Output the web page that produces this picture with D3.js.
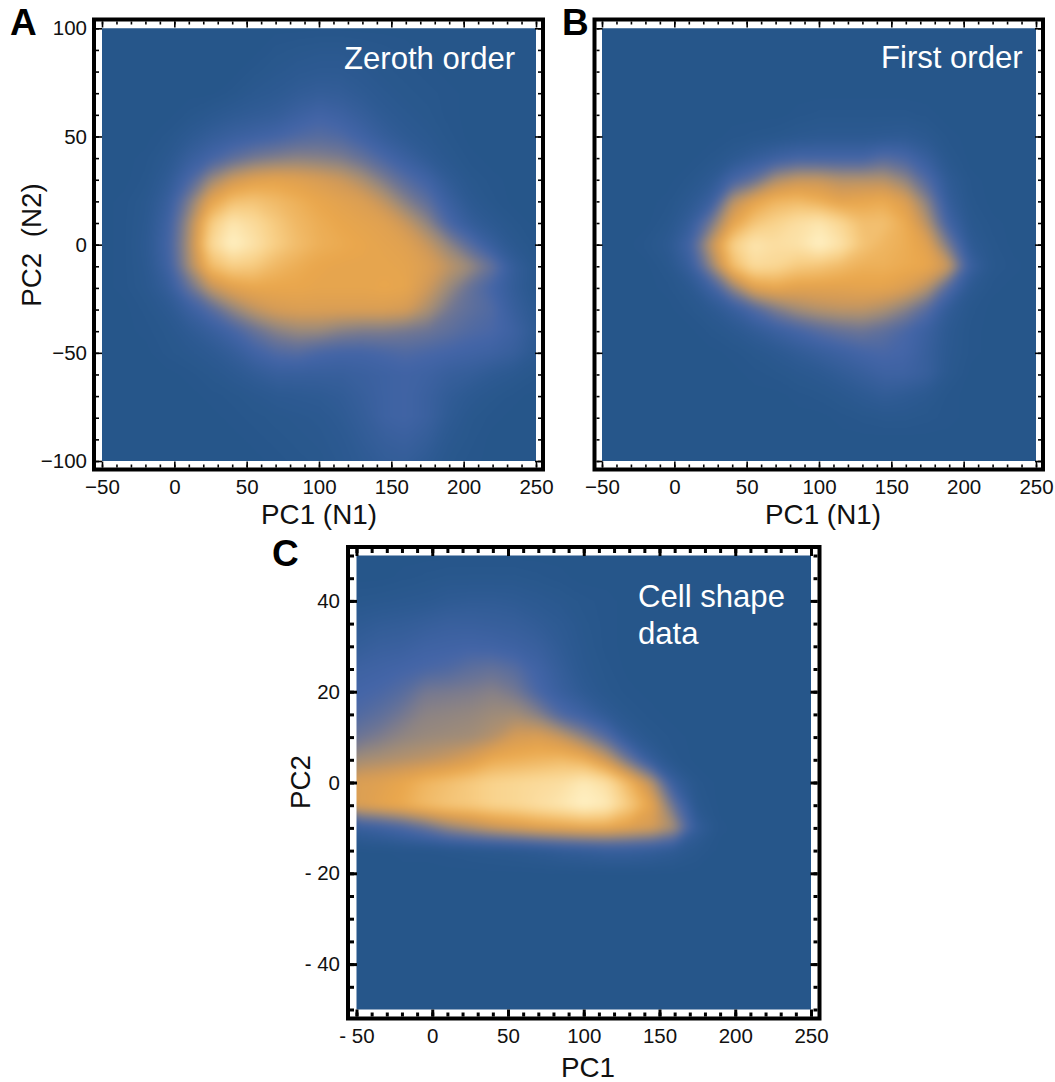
<!DOCTYPE html>
<html>
<head>
<meta charset="utf-8">
<script src="https://cdn.jsdelivr.net/npm/d3@7"></script>
<style>
  html, body { margin: 0; padding: 0; background: #fff; }
  text { font-family: "Liberation Sans", Arial, sans-serif; fill: #111; }
  .tick text { font-size: 20.5px; }
  .axis-label { font-size: 27.8px; }
  .panel-title { font-size: 31.1px; fill: #fff; }
  .panel-letter { font-size: 37px; font-weight: bold; fill: #000; }
</style>
</head>
<body>
<svg id="chart" width="1055" height="1082"></svg>
<script>
// density, 0 = background blue, 100 = brightest cream
// rows go top to bottom, columns left to right, 21 x 21
const zerothOrder = [
  [0,0,0,0,0,0,0,0,0,0,0,0,0,0,0,0,0,0,0,0,0],
  [0,0,0,0,0,0,0,0,2,3,4,4,3,2,1,0,0,0,0,0,0],
  [0,0,0,0,0,0,0,2,4,6,7,7,5,3,2,1,0,0,0,0,0],
  [0,0,0,0,0,0,2,5,7,10,12,11,8,5,3,2,1,0,0,0,0],
  [0,0,0,0,2,5,8,10,12,17,21,18,13,8,5,3,1,0,0,0,0],
  [0,0,0,2,7,12,16,19,22,26,28,26,20,13,8,5,2,0,0,0,0],
  [0,0,1,5,14,22,30,36,39,41,40,38,32,24,16,9,4,1,0,0,0],
  [0,0,2,9,24,44,56,62,64,62,59,55,48,38,28,20,9,3,1,0,0],
  [0,1,4,14,38,64,76,78,74,70,66,63,60,52,40,30,16,6,2,0,0],
  [0,1,5,18,46,80,94,88,80,73,69,66,64,62,54,42,24,12,6,2,0],
  [0,1,6,20,48,86,100,92,82,75,70,68,66,64,62,54,42,28,14,5,1],
  [0,1,5,18,46,74,82,80,73,69,66,65,65,65,64,60,52,44,32,12,3],
  [0,1,4,12,32,52,62,66,66,66,65,65,65,66,65,56,44,32,22,11,3],
  [0,0,2,6,16,28,42,52,58,60,60,60,60,60,58,48,36,30,26,14,6],
  [0,0,1,3,8,14,22,32,40,44,44,40,38,38,36,34,30,26,24,18,8],
  [0,0,0,2,4,7,12,20,26,28,24,22,22,24,26,24,22,20,18,14,6],
  [0,0,0,0,1,3,6,10,14,14,14,14,16,18,20,18,14,12,8,5,2],
  [0,0,0,0,0,1,2,4,6,7,8,10,14,18,20,16,10,6,3,1,0],
  [0,0,0,0,0,0,1,2,3,4,5,8,12,18,20,16,8,3,1,0,0],
  [0,0,0,0,0,0,0,1,2,3,4,6,10,14,16,12,5,2,0,0,0],
  [0,0,0,0,0,0,0,0,1,2,3,5,8,11,12,8,3,1,0,0,0]
];

const firstOrder = [
  [0,0,0,0,0,0,0,0,0,0,0,0,0,0,0,0,0,0,0,0,0],
  [0,0,0,0,0,0,0,0,0,0,0,0,0,0,0,0,0,0,0,0,0],
  [0,0,0,0,0,0,0,0,0,0,0,0,0,0,0,0,0,0,0,0,0],
  [0,0,0,0,0,0,0,0,0,0,0,0,0,0,0,0,0,0,0,0,0],
  [0,0,0,0,0,0,0,0,0,1,2,2,2,2,2,1,0,0,0,0,0],
  [0,0,0,0,0,0,1,2,3,5,6,6,6,7,8,5,1,0,0,0,0],
  [0,0,0,0,0,2,6,12,18,22,22,22,22,28,24,14,3,0,0,0,0],
  [0,0,0,0,2,7,22,32,48,54,54,50,50,50,42,26,8,1,0,0,0],
  [0,0,0,1,6,16,50,64,72,74,70,64,66,68,60,40,12,2,0,0,0],
  [0,0,0,3,12,36,64,78,84,90,94,86,76,76,68,50,20,4,1,0,0],
  [0,0,2,6,20,52,82,94,90,92,100,92,78,72,69,62,36,8,2,0,0],
  [0,0,0,3,14,42,74,88,86,80,78,74,70,70,68,66,54,16,3,1,0],
  [0,0,0,1,5,18,42,62,66,63,63,63,64,64,60,50,26,6,1,0,0],
  [0,0,0,0,2,6,14,26,38,46,50,52,52,48,40,28,10,2,0,0,0],
  [0,0,0,0,0,2,5,10,16,22,28,32,34,30,24,16,6,1,0,0,0],
  [0,0,0,0,0,0,1,3,6,10,14,18,22,24,22,14,5,1,0,0,0],
  [0,0,0,0,0,0,0,1,2,4,6,10,14,18,18,14,4,0,0,0,0],
  [0,0,0,0,0,0,0,0,0,1,2,4,7,10,8,5,1,0,0,0,0],
  [0,0,0,0,0,0,0,0,0,0,0,1,2,3,3,2,1,0,0,0,0],
  [0,0,0,0,0,0,0,0,0,0,0,0,0,0,0,0,0,0,0,0,0],
  [0,0,0,0,0,0,0,0,0,0,0,0,0,0,0,0,0,0,0,0,0]
];

const cellShape = [
  [0,0,0,0,0,0,0,0,0,0,0,0,0,0,0,0,0,0,0,0,0],
  [0,0,1,2,3,3,3,3,2,1,0,0,0,0,0,0,0,0,0,0,0],
  [3,4,5,6,8,9,9,8,6,4,2,1,0,0,0,0,0,0,0,0,0],
  [8,10,11,13,15,15,14,13,10,7,3,1,0,0,0,0,0,0,0,0,0],
  [12,15,16,19,20,21,20,18,15,9,4,1,0,0,0,0,0,0,0,0,0],
  [18,20,22,24,26,30,32,28,20,12,5,2,0,0,0,0,0,0,0,0,0],
  [22,24,28,36,37,38,40,36,24,15,8,3,1,0,0,0,0,0,0,0,0],
  [26,30,36,41,42,43,45,46,40,26,18,9,3,1,0,0,0,0,0,0,0],
  [34,38,42,44,45,46,50,58,60,54,42,28,10,3,1,0,0,0,0,0,0],
  [46,48,50,52,55,60,68,70,72,74,70,56,34,12,2,0,0,0,0,0,0],
  [60,62,66,72,76,80,84,86,88,90,96,90,72,50,14,2,0,0,0,0,0],
  [60,64,68,74,78,80,84,86,90,94,100,96,80,64,32,4,0,0,0,0,0],
  [14,18,24,32,42,48,54,58,62,64,66,66,62,58,46,12,1,0,0,0,0],
  [0,0,1,1,2,3,4,5,7,10,12,14,14,12,8,3,0,0,0,0,0],
  [0,0,0,0,0,0,0,0,0,0,0,0,0,0,0,0,0,0,0,0,0],
  [0,0,0,0,0,0,0,0,0,0,0,0,0,0,0,0,0,0,0,0,0],
  [0,0,0,0,0,0,0,0,0,0,0,0,0,0,0,0,0,0,0,0,0],
  [0,0,0,0,0,0,0,0,0,0,0,0,0,0,0,0,0,0,0,0,0],
  [0,0,0,0,0,0,0,0,0,0,0,0,0,0,0,0,0,0,0,0,0],
  [0,0,0,0,0,0,0,0,0,0,0,0,0,0,0,0,0,0,0,0,0],
  [0,0,0,0,0,0,0,0,0,0,0,0,0,0,0,0,0,0,0,0,0]
];

const pcTicksX = [-50, 0, 50, 100, 150, 200, 250];
const pcMinorX = d3.range(-50, 251, 10);
const abTicksY = [-100, -50, 0, 50, 100];
const abMinorY = d3.range(-100, 101, 10);
const cTicksY = [-40, -20, 0, 20, 40];
const cMinorY = d3.range(-50, 51, 5);

const densityStops = [0, 8, 22, 34, 45, 56, 66, 82, 100];
const densityColors = ['#26568a', '#2f5b94', '#4465a8', '#6d7595', '#a08c78', '#d29a58', '#eaa74c', '#f8d088', '#fff2c6'];

const svg = d3.select('#chart');

const color = d3.scaleLinear()
    .domain(densityStops)
    .range(densityColors)
    .clamp(true);

const defs = svg.append('defs');
defs.append('filter')
    .attr('id', 'soften')
    .attr('color-interpolation-filters', 'sRGB')
    .append('feGaussianBlur')
    .attr('stdDeviation', 4.5);

const minusFormat = d => d < 0 ? '\u2212' + Math.abs(d) : '' + d;
const spacedFormat = d => d < 0 ? '- ' + Math.abs(d) : '' + d;

function drawPanel(p) {
    const x = d3.scaleLinear().domain([-50, 250]).range(p.xRange);
    const y = d3.scaleLinear().domain(p.yDomain).range(p.yRange);
    const g = svg.append('g').attr('class', 'panel-' + p.letter);

    const clipId = 'clip-' + p.letter;
    defs.append('clipPath').attr('id', clipId)
        .append('rect')
        .attr('x', p.xRange[0])
        .attr('y', p.yRange[1])
        .attr('width', p.xRange[1] - p.xRange[0])
        .attr('height', p.yRange[0] - p.yRange[1]);

    // contours of the density grid, one filled path per level
    const rows = p.grid.length, cols = p.grid[0].length;
    const stepX = 300 / (cols - 1);
    const stepY = (p.yDomain[1] - p.yDomain[0]) / (rows - 1);
    const contours = d3.contours()
        .size([cols, rows])
        .thresholds(d3.range(0.5, 100, 1))(p.grid.flat());

    const projection = d3.geoTransform({
        point: function (gx, gy) {
            this.stream.point(
                x(-50 + (gx - 0.5) * stepX),
                y(p.yDomain[1] - (gy - 0.5) * stepY));
        }
    });
    const path = d3.geoPath(projection);

    const image = g.append('g').attr('clip-path', 'url(#' + clipId + ')')
        .append('g').attr('filter', 'url(#soften)');
    image.append('rect')
        .attr('x', p.xRange[0] - 40)
        .attr('y', p.yRange[1] - 40)
        .attr('width', p.xRange[1] - p.xRange[0] + 80)
        .attr('height', p.yRange[0] - p.yRange[1] + 80)
        .attr('fill', color(0));
    image.selectAll('path')
        .data(contours)
        .join('path')
        .attr('d', path)
        .attr('fill', d => color(d.value));

    // ticks on all four sides, pointing inward from the frame
    const f = p.frame;
    const inner = p.frameWidth / 2;
    const sides = [
        { make: d3.axisBottom, scale: x, at: [0, f.bottom - inner], major: p.ticksX, minor: pcMinorX, labels: true },
        { make: d3.axisTop, scale: x, at: [0, f.top + inner], major: p.ticksX, minor: pcMinorX },
        { make: d3.axisLeft, scale: y, at: [f.left + inner, 0], major: p.ticksY, minor: p.minorY, labels: p.showY },
        { make: d3.axisRight, scale: y, at: [f.right - inner, 0], major: p.ticksY, minor: p.minorY }
    ];
    sides.forEach(s => {
        const minorG = g.append('g')
            .attr('transform', `translate(${s.at})`)
            .call(s.make(s.scale).tickValues(s.minor).tickFormat('').tickSizeOuter(0).tickSizeInner(-p.minorLen));
        minorG.select('.domain').remove();

        const majorAxis = s.make(s.scale).tickValues(s.major).tickSizeOuter(0).tickSizeInner(-p.majorLen);
        majorAxis.tickFormat(s.labels ? p.format : '');
        const majorG = g.append('g')
            .attr('transform', `translate(${s.at})`)
            .call(majorAxis);
        majorG.select('.domain').remove();
        majorG.selectAll('.tick text')
            .attr('fill', '#111')
            .attr('font-family', null);
        if (s.labels && s.make === d3.axisBottom) majorG.selectAll('.tick text').attr('y', p.labelGapX);
        if (s.labels && s.make === d3.axisLeft) majorG.selectAll('.tick text').attr('x', -p.labelGapY);

        g.selectAll('.tick line')
            .attr('stroke', '#000')
            .attr('stroke-width', p.tickWidth);
    });

    g.append('rect')
        .attr('x', f.left)
        .attr('y', f.top)
        .attr('width', f.right - f.left)
        .attr('height', f.bottom - f.top)
        .attr('fill', 'none')
        .attr('stroke', '#000')
        .attr('stroke-width', p.frameWidth);

    g.append('text')
        .attr('class', 'axis-label')
        .attr('x', p.xLabel[1])
        .attr('y', p.xLabel[2])
        .attr('text-anchor', 'middle')
        .text(p.xLabel[0]);

    if (p.yLabel) {
        g.append('text')
            .attr('class', 'axis-label')
            .attr('transform', `translate(${p.yLabel[1]},${p.yLabel[2]}) rotate(-90)`)
            .attr('text-anchor', 'middle')
            .style('white-space', 'pre')
            .text(p.yLabel[0]);
    }

    g.append('text')
        .attr('class', 'panel-letter')
        .attr('x', p.letterAt[0])
        .attr('y', p.letterAt[1])
        .text(p.letter);

    p.title.forEach(t => {
        g.append('text')
            .attr('class', 'panel-title')
            .attr('x', t[1])
            .attr('y', t[2])
            .text(t[0]);
    });
}

drawPanel({
    letter: 'A', grid: zerothOrder,
    xRange: [102, 536], yRange: [461, 28.3], yDomain: [-100, 100],
    frame: { left: 94, right: 543, top: 19.5, bottom: 469.5 }, frameWidth: 4,
    ticksX: pcTicksX, ticksY: abTicksY, minorY: abMinorY, showY: true,
    majorLen: 6, minorLen: 3, tickWidth: 1.6,
    format: minusFormat, labelGapX: 12, labelGapY: 9,
    xLabel: ['PC1 (N1)', 319, 524], yLabel: ['PC2  (N2)', 41, 245],
    letterAt: [10, 35], title: [['Zeroth order', 344, 69]]
});

drawPanel({
    letter: 'B', grid: firstOrder,
    xRange: [602, 1036], yRange: [461, 28.3], yDomain: [-100, 100],
    frame: { left: 594.5, right: 1043, top: 19.5, bottom: 469.5 }, frameWidth: 4,
    ticksX: pcTicksX, ticksY: abTicksY, minorY: abMinorY, showY: false,
    majorLen: 6, minorLen: 3, tickWidth: 1.6,
    format: minusFormat, labelGapX: 12, labelGapY: 9,
    xLabel: ['PC1 (N1)', 823, 524], yLabel: null,
    letterAt: [562, 35], title: [['First order', 881, 68]]
});

drawPanel({
    letter: 'C', grid: cellShape,
    xRange: [356.5, 811], yRange: [1009.5, 555.5], yDomain: [-50, 50],
    frame: { left: 348, right: 819.5, top: 547, bottom: 1018.5 }, frameWidth: 4,
    ticksX: pcTicksX, ticksY: cTicksY, minorY: cMinorY, showY: true,
    majorLen: 7, minorLen: 4, tickWidth: 3,
    format: spacedFormat, labelGapX: 12, labelGapY: 10,
    xLabel: ['PC1', 588, 1077], yLabel: ['PC2', 310, 782],
    letterAt: [272, 566], title: [['Cell shape', 638, 607], ['data', 638, 644]]
});
</script>
</body>
</html>
